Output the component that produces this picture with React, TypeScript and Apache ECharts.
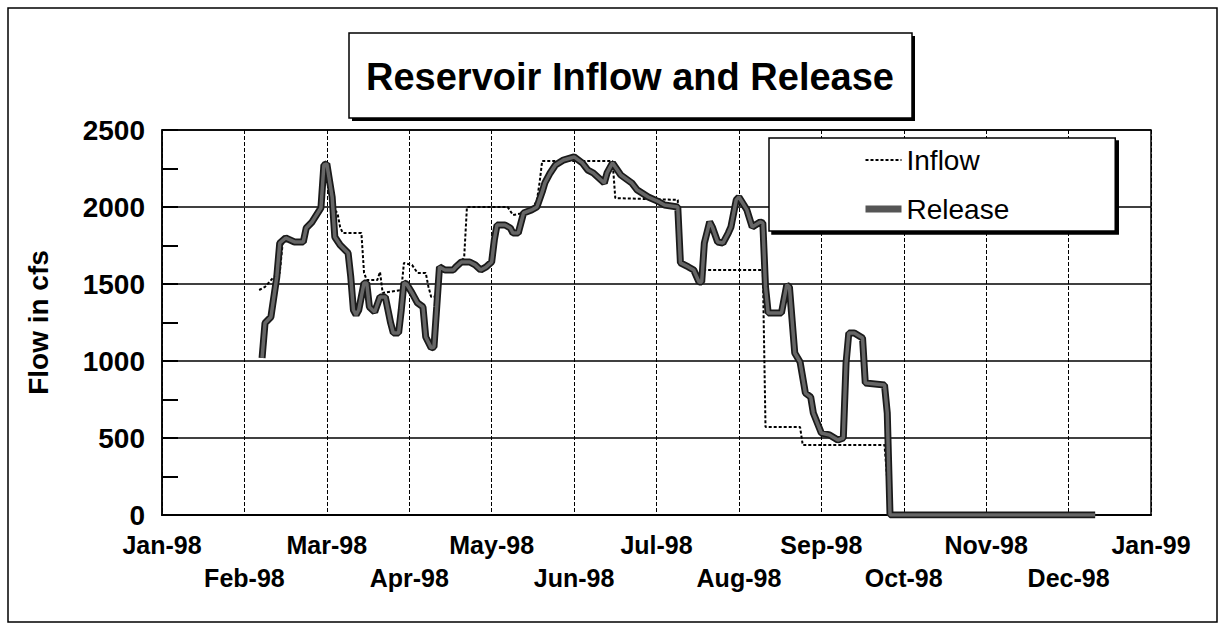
import React, { useEffect, useRef } from 'react';
import * as echarts from 'echarts';

const monthLabels = [
  'Jan-98', 'Feb-98', 'Mar-98', 'Apr-98', 'May-98', 'Jun-98', 'Jul-98',
  'Aug-98', 'Sep-98', 'Oct-98', 'Nov-98', 'Dec-98', 'Jan-99',
];

const releaseDates = [
  '02-07', '02-08', '02-10', '02-12', '02-13', '02-15', '02-18', '02-21', '02-22', '02-24', '02-27', '02-28',
  '03-01', '03-03', '03-04', '03-06', '03-09', '03-10', '03-11', '03-12', '03-13', '03-15', '03-16', '03-17',
  '03-19', '03-21', '03-23', '03-25', '03-26', '03-28', '03-29', '03-30', '03-31',
  '04-02', '04-04', '04-06', '04-07', '04-09', '04-10', '04-11', '04-12', '04-14', '04-17', '04-18', '04-20',
  '04-23', '04-25', '04-27', '04-29',
  '05-01', '05-02', '05-03', '05-06', '05-08', '05-09', '05-11', '05-12', '05-13', '05-16', '05-18', '05-20',
  '05-21', '05-23', '05-25', '05-28',
  '06-01', '06-04', '06-06', '06-08', '06-12', '06-13', '06-15', '06-16', '06-18', '06-22', '06-24', '06-28',
  '07-02', '07-04', '07-09', '07-10', '07-13', '07-15', '07-17', '07-18', '07-19', '07-21', '07-22', '07-24',
  '07-26', '07-28', '07-29', '07-31',
  '08-01', '08-04', '08-06', '08-09', '08-10', '08-11', '08-12', '08-17', '08-19', '08-20', '08-21', '08-22',
  '08-24', '08-26', '08-28', '08-29',
  '09-01', '09-04', '09-07', '09-09', '09-10', '09-11', '09-13', '09-16', '09-17', '09-24', '09-25', '09-26',
  '12-11',
];
const releaseFlow = [
  1020, 1247, 1286, 1546, 1766, 1799, 1773, 1773, 1864, 1903, 1994, 2273,
  2280, 2065, 1805, 1753, 1701, 1546, 1331, 1299, 1331, 1507, 1507, 1351,
  1318, 1416, 1416, 1247, 1182, 1182, 1331, 1507, 1500,
  1442, 1377, 1351, 1156, 1085, 1091, 1350, 1611, 1591, 1591, 1611, 1643,
  1643, 1624, 1591, 1611,
  1643, 1786, 1883, 1883, 1864, 1831, 1831, 1896, 1961, 1981, 2000, 2098,
  2156, 2221, 2273, 2305,
  2325, 2286, 2240, 2221, 2156, 2221, 2286, 2260, 2208, 2156, 2110, 2065,
  2033, 2013, 2000, 1637, 1611, 1591, 1513, 1513, 1766, 1903, 1870, 1773,
  1766, 1831, 1870, 2046,
  2065, 1981, 1870, 1903, 1896, 1481, 1312, 1312, 1494, 1481, 1266, 1052,
  994, 792, 766, 662,
  532, 520, 487, 500, 987, 1182, 1182, 1149, 857, 844, 662, 0,
  0,
];

const inflowDates = [
  '02-06', '02-08', '02-11', '02-13', '02-14', '02-15', '02-18', '02-21', '02-22', '02-24', '02-27', '02-28',
  '03-01', '03-03', '03-05', '03-06', '03-07', '03-14', '03-15', '03-16', '03-20', '03-21', '03-22', '03-29',
  '03-30', '04-02', '04-04', '04-07', '04-08', '04-09', '04-11', '04-12', '04-14', '04-17', '04-18', '04-20',
  '04-21', '04-22', '05-07', '05-09', '05-13', '05-16', '05-18', '05-19', '05-20', '06-15', '06-16', '07-09',
  '07-10', '07-13', '07-15', '07-17', '07-18', '07-19', '08-10', '08-11', '08-24', '08-25', '09-24', '09-26',
  '12-11',
];
const inflowFlow = [
  1461, 1481, 1546, 1572, 1766, 1799, 1773, 1773, 1864, 1903, 1994, 2273,
  2280, 2000, 1960, 1870, 1831, 1831, 1572, 1526, 1526, 1578, 1442, 1461,
  1637, 1624, 1572, 1572, 1481, 1416, 1420, 1611, 1591, 1591, 1611, 1643,
  1676, 2000, 2000, 1948, 1961, 1981, 2040, 2156, 2299, 2299, 2058, 2046,
  1637, 1611, 1591, 1513, 1513, 1591, 1591, 571, 571, 455, 455, 0,
  0,
];

const daysInMonth = [31, 28, 31, 30, 31, 30, 31, 31, 30, 31, 30, 31];
const monthPos = (md: string) => {
  const [m, d] = md.split('-').map(Number);
  return m - 1 + (d - 1) / daysInMonth[m - 1];
};
const toPairs = (dates: string[], vals: number[]) => dates.map((d, i) => [monthPos(d), vals[i]]);

const FONT = '"Liberation Sans", Arial, Helvetica, sans-serif';

export default function App() {
  const ref = useRef<HTMLDivElement>(null);
  useEffect(() => {
    const chart = echarts.init(ref.current!, null, { renderer: 'svg' });
    const releaseData = toPairs(releaseDates, releaseFlow);
    const inflowData = toPairs(inflowDates, inflowFlow);
    chart.setOption({
      animation: false,
      backgroundColor: '#fff',
      textStyle: { fontFamily: FONT },
      grid: {
        left: 162, right: 74, top: 130, bottom: 116,
        show: true, borderColor: '#000', borderWidth: 1.5, backgroundColor: 'transparent',
      },
      xAxis: {
        type: 'value', min: 0, max: 12, interval: 1,
        axisLine: { show: true, lineStyle: { color: '#000', width: 2 } },
        axisTick: { show: false },
        splitLine: { show: true, lineStyle: { color: '#000', width: 1, type: [4, 2] } },
        axisLabel: {
          color: '#000', fontWeight: 'bold', fontSize: 25, fontFamily: FONT,
          margin: 13, lineHeight: 33,
          formatter: (v: number) => {
            const i = Math.round(v);
            const lab = monthLabels[i] ?? '';
            return i % 2 === 0 ? lab : '\n' + lab;
          },
        },
      },
      yAxis: {
        type: 'value', min: 0, max: 2500, interval: 500,
        name: 'Flow in cfs', nameLocation: 'middle', nameRotate: 90, nameGap: 110,
        nameTextStyle: { color: '#000', fontWeight: 'bold', fontSize: 28, fontFamily: FONT },
        axisLine: { show: true, lineStyle: { color: '#000', width: 1.5 } },
        axisTick: { show: true, inside: true, length: 16, lineStyle: { color: '#000', width: 2 } },
        minorTick: { show: true, splitNumber: 2, length: 16, lineStyle: { color: '#000', width: 2 } },
        splitLine: { show: true, lineStyle: { color: '#000', width: 1.5 } },
        axisLabel: {
          color: '#000', fontWeight: 'bold', fontSize: 28, fontFamily: FONT, margin: 17,
          formatter: (v: number) => String(v),
        },
      },
      legend: {
        data: [
          { name: 'Inflow', itemStyle: { opacity: 0 } },
          { name: 'Release', itemStyle: { opacity: 0 }, lineStyle: { color: '#555', width: 7 } },
        ],
        orient: 'vertical', left: 769, top: 138,
        padding: [8, 106, 8, 93],
        itemWidth: 36, itemHeight: 14, itemGap: 21,
        backgroundColor: '#fff', borderColor: '#000', borderWidth: 1.5,
        shadowColor: '#000', shadowOffsetX: 3, shadowOffsetY: 3, shadowBlur: 0,
        textStyle: { fontSize: 28, color: '#000', fontFamily: FONT },
        z: 6,
      },
      graphic: [
        { type: 'rect', z: 1, shape: { x: 8, y: 8, width: 1209, height: 614 }, style: { fill: 'none', stroke: '#000', lineWidth: 1.5 } },
        { type: 'rect', z: 1, shape: { x: 352, y: 36, width: 563, height: 85 }, style: { fill: '#000' } },
        { type: 'rect', z: 1, shape: { x: 349, y: 33, width: 563, height: 85 }, style: { fill: '#fff', stroke: '#000', lineWidth: 1.5 } },
        {
          type: 'text', z: 2, x: 630, y: 77,
          style: {
            text: 'Reservoir Inflow and Release', fill: '#000',
            fontSize: 38, fontWeight: 'bold', fontFamily: FONT,
            align: 'center', verticalAlign: 'middle',
          },
        },
      ],
      series: [
        {
          name: 'Inflow', type: 'line', data: inflowData, symbol: 'none', z: 2,
          lineStyle: { color: '#000', width: 2, type: [3, 2] },
        },
        {
          name: 'ReleaseOutline', type: 'line', data: releaseData, symbol: 'none', z: 3,
          lineStyle: { color: '#1a1a1a', width: 7 }, silent: true,
        },
        {
          name: 'Release', type: 'line', data: releaseData, symbol: 'none', z: 4,
          lineStyle: { color: '#666', width: 3.5 },
        },
      ],
    });
    return () => chart.dispose();
  }, []);
  return (
    <div
      ref={ref}
      style={{ position: 'fixed', left: 0, top: 0, width: 1225, height: 631, background: '#fff' }}
    />
  );
}
